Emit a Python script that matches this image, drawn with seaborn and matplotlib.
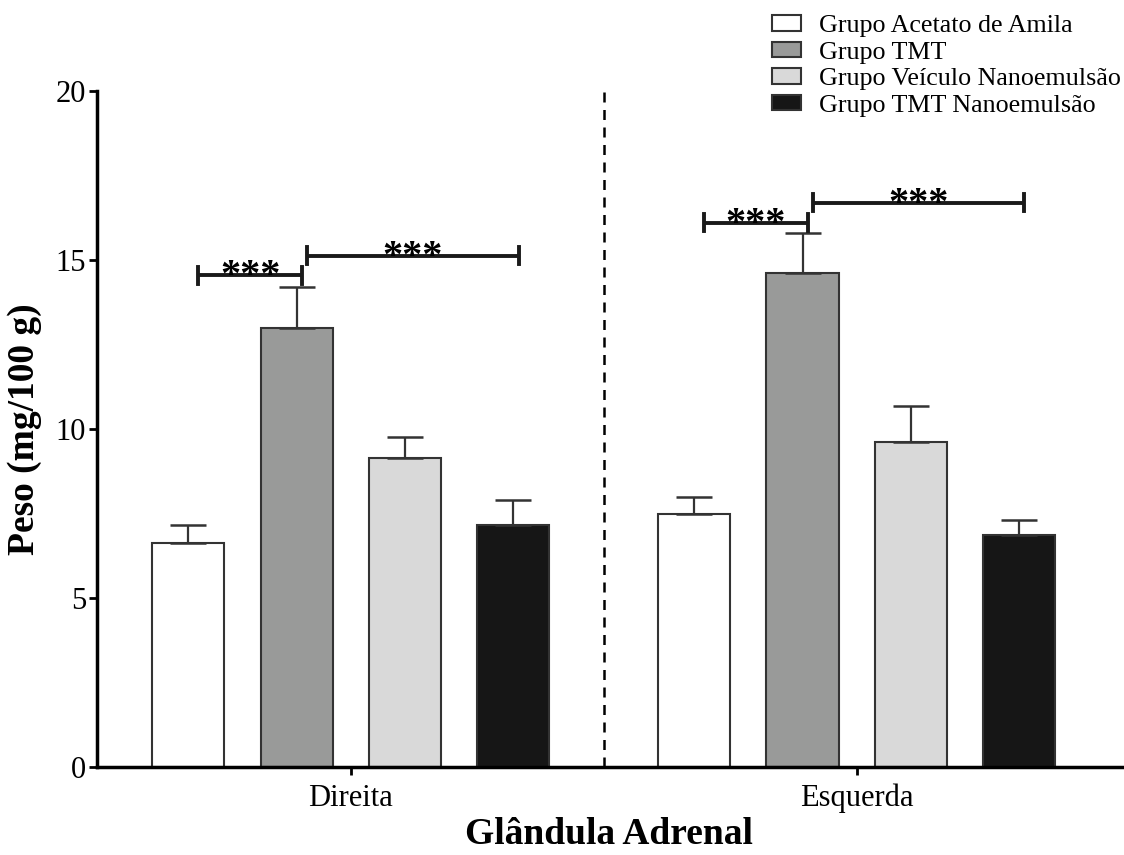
import pandas as pd
import seaborn as sns
import matplotlib.pyplot as plt
from matplotlib.patches import Patch

# dados (média e erro padrão)
lados = ['Direita', 'Esquerda']
grupos = ['Grupo Acetato de Amila', 'Grupo TMT', 'Grupo Veículo Nanoemulsão', 'Grupo TMT Nanoemulsão']
cores = ['#ffffff', '#999a99', '#d9d9d9', '#161616']

peso_direita = [6.63, 13.0, 9.13, 7.16]
peso_esquerda = [7.49, 14.6, 9.6, 6.86]
erro_direita = [0.53, 1.2, 0.62, 0.73]
erro_esquerda = [0.51, 1.19, 1.08, 0.46]

# comparações (lado, grupo a, grupo b, altura)
comparacoes = [
    ('Direita', 0, 1, 14.55),
    ('Direita', 1, 3, 15.12),
    ('Esquerda', 0, 1, 16.1),
    ('Esquerda', 1, 3, 16.7),
]

plt.rcParams['font.family'] = ['Liberation Serif', 'DejaVu Serif']

rows = []
for i, g in enumerate(grupos):
    rows.append({'lado': 'Direita', 'grupo': g, 'peso': peso_direita[i], 'erro': erro_direita[i]})
    rows.append({'lado': 'Esquerda', 'grupo': g, 'peso': peso_esquerda[i], 'erro': erro_esquerda[i]})
df = pd.DataFrame(rows)

fig = plt.figure(figsize=(11.24, 8.55), dpi=100)
ax = fig.add_axes([0.0863, 0.103, 0.9117, 0.7906])

sns.barplot(data=df, x='lado', y='peso', hue='grupo', order=lados, hue_order=grupos,
            palette=dict(zip(grupos, cores)), errorbar=None, width=0.857, gap=0.335,
            edgecolor='#333333', linewidth=1.5, saturation=1, legend=False, ax=ax)

# centros das barras: patches na ordem grupo -> lado
centros = {}
for k, p in enumerate(ax.patches[:len(grupos) * len(lados)]):
    gi, li = divmod(k, len(lados))
    centros[(lados[li], gi)] = p.get_x() + p.get_width() / 2

for gi, g in enumerate(grupos):
    for lado in lados:
        linha = df[(df.grupo == g) & (df.lado == lado)].iloc[0]
        ax.errorbar(centros[(lado, gi)], linha.peso, yerr=[[0], [linha.erro]], fmt='none',
                    ecolor='#333333', elinewidth=1.6, capsize=13, capthick=1.8, zorder=1)

for lado, a, b, h in comparacoes:
    x0, x1 = centros[(lado, a)] + 0.02, centros[(lado, b)] + 0.01
    ax.plot([x0, x1], [h, h], color='#1a1a1a', lw=2.8, solid_capstyle='butt')
    ax.plot([x0, x0], [h - 0.25, h + 0.25], color='#1a1a1a', lw=2.8)
    ax.plot([x1, x1], [h - 0.25, h + 0.25], color='#1a1a1a', lw=2.8)
    ax.annotate('***', xy=((x0 + x1) / 2, h), xytext=(0, -8), textcoords='offset points',
                ha='center', va='baseline', fontsize=29, fontweight='bold')

ax.axvline(0.5, color='black', lw=1.8, ls=(0, (4, 3)))

ax.set_ylim(0, 20)
ax.set_xlim(-0.502, 1.524)
ax.set_yticks([0, 5, 10, 15, 20])
ax.set_xlabel('Glândula Adrenal', fontsize=27, fontweight='bold', labelpad=3)
ax.set_ylabel('Peso (mg/100 g)', fontsize=27, fontweight='bold', labelpad=10)
ax.tick_params(axis='both', labelsize=22, width=2, length=6, direction='out', pad=2)
ax.tick_params(axis='x', pad=6)
for s in ['top', 'right']:
    ax.spines[s].set_visible(False)
for s in ['left', 'bottom']:
    ax.spines[s].set_linewidth(2.5)

handles = [Patch(facecolor=c, edgecolor='#333333', linewidth=1.5) for c in cores]
fig.legend(handles, grupos, loc='upper left', bbox_to_anchor=(0.687, 0.982), frameon=False,
           fontsize=18.7, handlelength=1.1, handleheight=0.55, handletextpad=0.7,
           labelspacing=0.17, borderpad=0, borderaxespad=0)

fig.savefig('out.png', dpi=100)
